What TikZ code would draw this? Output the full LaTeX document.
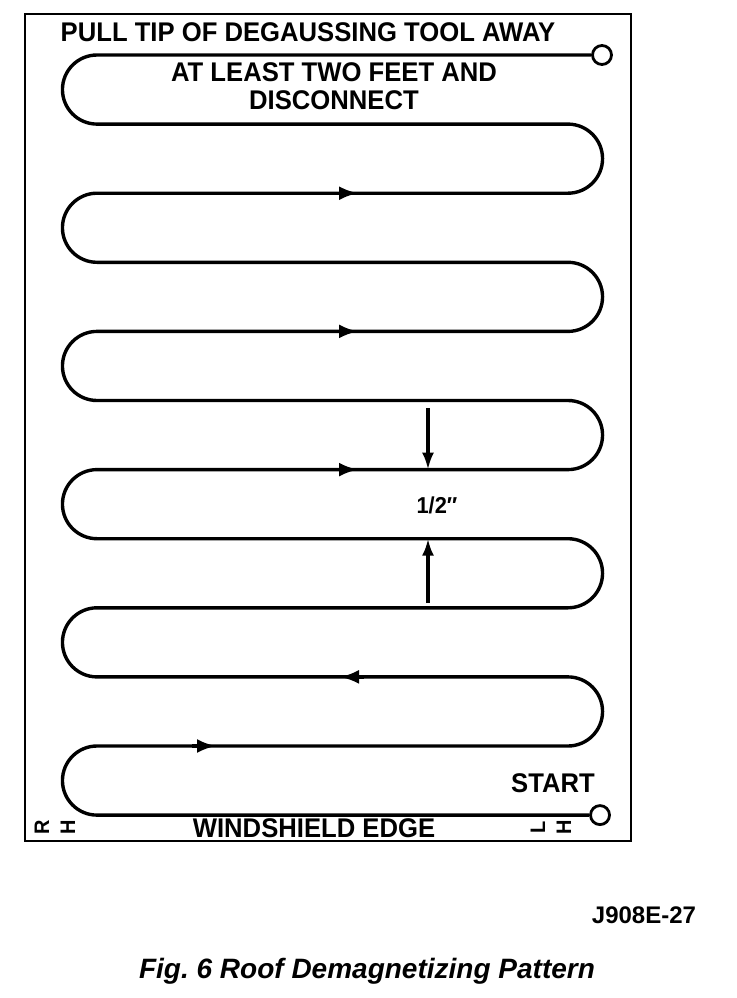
\documentclass[tikz,border=0pt]{standalone}
\usepackage{fontspec}
\setmainfont{Liberation Sans}
\newfontfamily\labelfont[FakeStretch=0.95]{Liberation Sans Bold}
\newfontfamily\codefont{Liberation Sans Bold}
\usepackage{tikz}
\usetikzlibrary{arrows.meta,positioning}

\tikzset{
  pass/.style={line width=3.4pt, line join=round},
  endring/.style={circle, draw, line width=2.8pt, minimum size=19pt, inner sep=0pt},
  lbl/.style={font=\labelfont\fontsize{27}{28}\selectfont, inner sep=0pt},
  sidelbl/.style={font=\labelfont\fontsize{21}{26}\selectfont, inner sep=0pt, rotate=90, align=center},
  dirtip/.style={-{Latex[length=19pt,width=14pt]}, line width=3.4pt},
  gaparrow/.style={-{Latex[length=17pt,width=12pt]}, line width=3.2pt}
}

\begin{document}
\begin{tikzpicture}[x=1pt, y=-1pt]
\useasboundingbox (0,0) rectangle (736,998);
\draw[line width=2.4pt] (25,14) rectangle (631,841);

\node[endring] (tipend) at (602,55) {};
\node[endring] (start) at (600,815.1) {};

\draw[pass] (tipend.west) -- (97,55)
  \foreach \k in {1,3,5,7,9} {
    arc[start angle=270, end angle=90, radius=34.55] -- (568,55+69.1*\k)
    arc[start angle=-90, end angle=90, radius=34.55] -- (97,124.1+69.1*\k)
  }
  arc[start angle=270, end angle=90, radius=34.55] -- (start.west);

\draw[dirtip] (334,193.2) -- (358,193.2);
\draw[dirtip] (334,331.4) -- (358,331.4);
\draw[dirtip] (334,469.6) -- (358,469.6);
\draw[dirtip] (364,676.9) -- (340,676.9);
\draw[dirtip] (192,746) -- (216,746);

\coordinate (gaptop) at (428,408);
\coordinate (gapupper) at (428,469.6);
\coordinate (gapbottom) at (428,603);
\coordinate (gaplower) at (428,538.7);
\draw[gaparrow] (gaptop) -- (gapupper);
\draw[gaparrow] (gapbottom) -- (gaplower);
\node[font=\labelfont\fontsize{23}{23}\selectfont] (halfinch) at (437,505) {1/2″};

\node[lbl] (pulltip) at (308,32) {PULL TIP OF DEGAUSSING TOOL AWAY};
\node[lbl, align=center] (distance) at (334,86) {AT LEAST TWO FEET AND\\DISCONNECT};
\node[lbl] (startlbl) at (553,783) {START};
\node[lbl] (windshield) at (314,828) {WINDSHIELD EDGE};
\node[sidelbl] (rhside) at (55,827) {R\\H};
\node[sidelbl] (lhside) at (551,827) {L\\H};

\node[font=\codefont\fontsize{24}{24}\selectfont] (figcode) at (644,915) {J908E-27};
\node[font=\bfseries\itshape\fontsize{28}{28}\selectfont] (caption) at (367,971) {Fig.\ 6 Roof Demagnetizing Pattern};
\end{tikzpicture}
\end{document}
